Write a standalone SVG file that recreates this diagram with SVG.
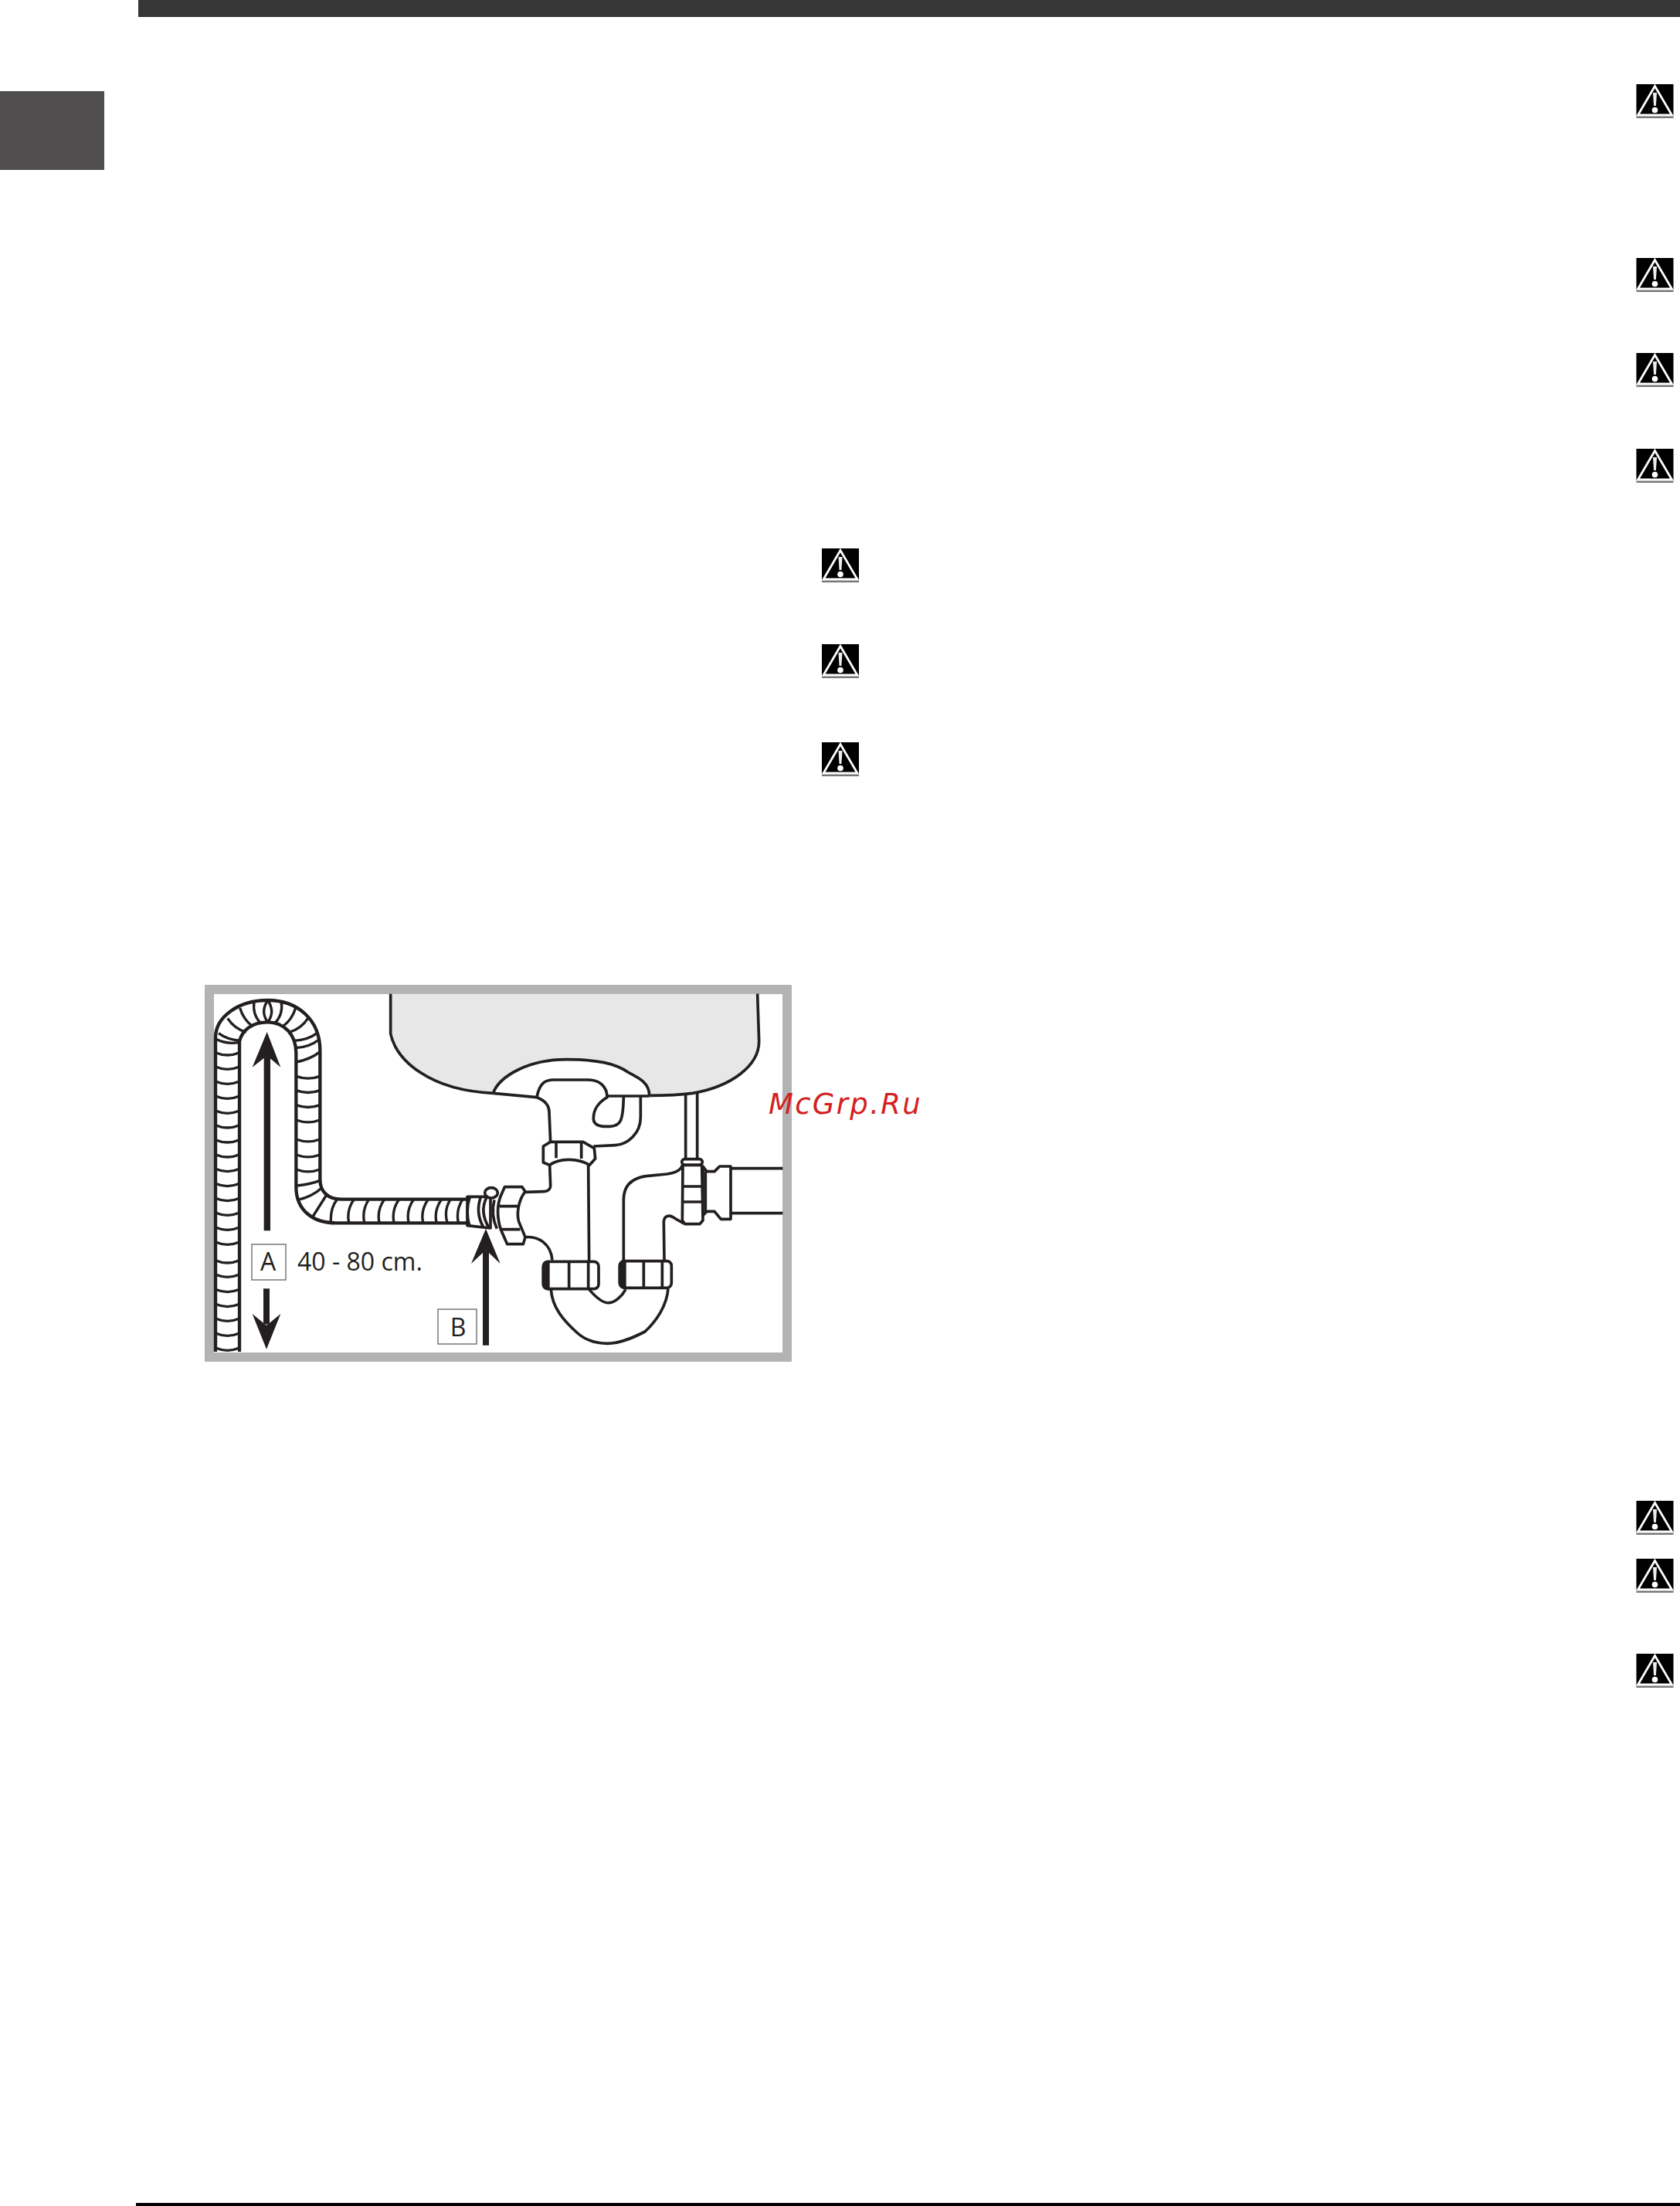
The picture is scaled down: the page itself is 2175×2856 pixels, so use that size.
<svg xmlns="http://www.w3.org/2000/svg" xmlns:xlink="http://www.w3.org/1999/xlink" width="2175" height="2856" viewBox="0 0 2175 2856">
<style>
.l{fill:none;stroke:#231f20;stroke-width:11;stroke-linejoin:round;stroke-linecap:butt}
.h{fill:none;stroke:#231f20;stroke-width:13}
.r{fill:none;stroke:#231f20;stroke-width:10}
.w{fill:#fff;stroke:#231f20;stroke-width:11;stroke-linejoin:round}
.a{fill:#231f20}
.tag{fill:#fff;stroke:#808080;stroke-width:1.6}
.t{font-family:"Open Sans",sans-serif;font-size:32px;fill:#231f20}
</style>
<defs>
<g id="warn">
<rect x="0" y="0" width="48" height="41" fill="#000"/>
<rect x="0" y="41" width="48" height="3" fill="#777"/>
<path d="M24 2.500L2 40H46Z" fill="#000" stroke="#fff" stroke-width="2.800"/>
<path d="M21.500 11H26.500L25.400 28H22.600Z" fill="#eee"/>
<circle cx="24" cy="33.500" r="3.800" fill="#fff"/>
</g>
</defs>
<rect width="2175" height="2856" fill="#fff"/>
<rect id="top-bar" x="179" y="0" width="1996" height="22" fill="#363636"/>
<rect id="side-tab" x="0" y="118" width="135" height="102" fill="#4f4d4d"/>
<rect id="bottom-rule" x="176" y="2852" width="1999" height="4" fill="#000"/>
<g id="warnings">
<use href="#warn" x="2118.500" y="109"/>
<use href="#warn" x="2118.500" y="334"/>
<use href="#warn" x="2118.500" y="457"/>
<use href="#warn" x="2118.500" y="581"/>
<use href="#warn" x="1064" y="710"/>
<use href="#warn" x="1064" y="834"/>
<use href="#warn" x="1064" y="961"/>
<use href="#warn" x="2118.500" y="1943"/>
<use href="#warn" x="2118.500" y="2018"/>
<use href="#warn" x="2118.500" y="2141"/>
</g>
<g id="figure">
<rect id="frame" x="271" y="1281" width="748" height="476" fill="#fff" stroke="#b3b3b3" stroke-width="12"/>
<g id="plumbing" transform="translate(600,1260) scale(.33333)">
<path d="M-283 80V235C-260 340 -130 455 115 466C140 400 250 335 400 335C520 335 590 350 640 385C690 410 722 430 722 475C800 475 860 470 890 466C1040 440 1148 360 1148 265L1142 80Z" fill="#e7e7e7"/>
<path class="l" d="M-283 80V235C-260 340 -130 455 115 466"/>
<path class="l" d="M115 466C140 400 250 335 400 335C520 335 590 350 640 385C690 410 722 430 722 475"/>
<path class="l" d="M722 475C800 475 860 470 890 466C1040 440 1148 360 1148 265L1142 80"/>
<path d="M285 482C295 425 320 414 350 414H480C530 414 558 440 558 478H722L115 466Z" fill="#fff"/>
<path d="M115 466L285 482L558 478H722V520H115Z" fill="#fff"/>
<path class="l" d="M115 466L285 482"/>
<path class="l" d="M558 477H722"/>
<path class="l" d="M285 482C295 425 320 414 350 414H480C530 414 558 440 558 482C520 505 505 530 505 565C505 590 530 597 570 595C610 592 620 575 622 480"/>
<path class="l" d="M285 482C320 495 333 515 333 540L338 655"/>
<path class="l" d="M688 478V560C688 620 640 665 590 668L505 672"/>
<path class="l" d="M863 465V722M908 465V722"/>
<path class="w" d="M338 655L310 672V735L335 745C370 720 440 715 490 745L512 720L508 680L465 655Z"/>
<path class="l" d="M360 660V718M458 657V720"/>
<path class="l" d="M335 745L338 825C338 840 325 848 310 848L240 850"/>
<path class="l" d="M485 745L488 1120"/>
<path class="w" d="M160 830H228L240 848C215 880 205 930 215 965L240 1025L232 1052H170L145 995C130 950 130 900 145 865Z"/>
<path class="l" d="M140 905H210M145 995H220"/>
<path class="l" d="M240 1025C290 1020 340 1050 345 1115"/>
<path class="l" d="M622 1118V880C622 820 660 795 710 788L790 780C825 775 845 765 850 745"/>
<path class="l" d="M780 1115L778 965C780 940 800 938 815 948C830 958 845 965 855 972"/>
<path class="l" d="M340 1228C345 1300 390 1350 440 1395C480 1432 530 1438 560 1438C610 1438 660 1415 705 1392C750 1350 790 1290 795 1225"/>
<path class="l" d="M488 1228C520 1265 545 1282 565 1280C590 1278 615 1255 630 1228"/>
<rect class="w" x="310" y="1120" width="215" height="106" rx="18"/>
<path class="a" d="M328 1120C316 1120 305 1130 305 1145V1205C305 1220 318 1232 335 1232V1120Z"/>
<path class="l" d="M410 1120V1226M485 1120V1226"/>
<rect class="w" x="607" y="1118" width="201" height="104" rx="18"/>
<path class="a" d="M625 1115C613 1115 602 1125 602 1140V1200C602 1215 615 1226 632 1226V1115Z"/>
<path class="l" d="M700 1118V1222M772 1118V1222"/>
<path class="w" d="M852 745H926L930 960L918 974H860L850 960Z"/>
<path class="l" d="M852 828H926M852 888H926"/>
<rect class="w" x="848" y="722" width="80" height="22" rx="11"/>
<path class="w" d="M930 750L945 770H975L995 750H1038V955H1000L975 925H945L930 940Z"/>
<path class="l" d="M940 770V925"/>
<path class="l" d="M1038 758H1240M1038 932H1240"/>
</g>
<g id="hose" transform="translate(255,1260) scale(.33333)">
<path class="h" d="M72 1470V250C72 170 160 105 275 105C390 105 478 180 478 300V800C478 850 510 878 560 878H1050"/>
<path class="h" d="M165 1470V265C175 220 215 190 275 190C340 190 385 240 385 310V830C385 920 450 970 540 970H1050"/>
<g id="hose-ribs">
<path class="r" d="M72 255Q118 278 165 268M72 308Q118 328 165 308M72 363Q118 383 165 363M72 420Q118 440 165 420M72 477Q118 497 165 477M72 534Q118 554 165 534M72 590Q118 610 165 590M72 647Q118 667 165 647M72 704Q118 724 165 704M72 760Q118 780 165 760M72 817Q118 837 165 817M72 874Q118 894 165 874M72 930Q118 950 165 930M72 987Q118 1007 165 987M72 1044Q118 1064 165 1044M72 1115Q118 1135 165 1115M72 1170Q118 1190 165 1170M72 1228Q118 1248 165 1228M72 1285Q118 1305 165 1285M72 1341Q118 1361 165 1341M72 1398Q118 1418 165 1398M72 1455Q118 1475 165 1455"/>
<path class="r" d="M385 290Q440 285 470 260M385 345Q440 335 478 305M385 400Q432 417 478 400M385 455Q432 472 478 455M385 512Q432 529 478 512M385 570Q432 587 478 570M385 645Q432 662 478 645M385 705Q432 722 478 705M385 762Q432 779 478 762M387 825Q440 820 478 805"/>
<path class="r" d="M392 880Q445 870 487 832M450 945L507 855M520 965Q518 910 545 878M590 968Q580 920 610 878M650 968Q640 920 668 878M708 968Q698 920 728 878M765 968Q755 920 785 878M822 968Q812 920 842 878M878 968Q868 920 898 878M930 968Q920 920 950 878M972 968Q958 920 985 878M1015 968Q1005 920 1032 878"/>
<path class="r" d="M171 262Q120 260 84 233M191 229Q145 215 119 175M217 207Q180 180 167 135M247 194Q215 160 222 112M275 190Q245 150 275 105M275 190Q305 150 275 105M303 194Q335 160 328 112M333 207Q370 180 383 135M359 229Q405 215 431 175M378 262Q430 260 466 233"/>
</g>
<g id="clamp">
<path class="w" d="M1050 868H1140V990L1050 980Z"/>
<path class="l" d="M1060 870C1048 900 1048 950 1058 978M1102 870C1088 910 1092 950 1112 985M1125 870C1105 910 1110 950 1135 990M1155 880C1145 920 1150 960 1165 992"/>
<ellipse class="w" cx="1143" cy="853" rx="25" ry="20"/>
</g>
</g>
<g id="arrows" transform="translate(255,1260) scale(.33333)">
<path class="a" d="M260 1000V325L272 320L285 325V1000Z"/>
<path class="a" d="M272 228L325 365L272 320L215 365Z"/>
<path class="a" d="M258 1225H282V1360L270 1365L258 1360Z"/>
<path class="a" d="M270 1460L325 1323L270 1368L215 1323Z"/>
<path class="a" d="M1110 1445V1080L1122 1075L1134 1080V1445Z"/>
<path class="a" d="M1122 992L1178 1128L1122 1075L1065 1128Z"/>
</g>
<g id="label-a">
<rect class="tag" x="326" y="1611" width="44" height="46"/>
<text class="t" x="347" y="1645" text-anchor="middle">A</text>
<text class="t" x="385" y="1645">40 - 80 cm.</text>
</g>
<g id="label-b">
<rect class="tag" x="567" y="1695" width="50" height="45"/>
<text class="t" x="593" y="1730" text-anchor="middle">B</text>
</g>
</g>
<text id="watermark" x="995" y="1442" font-family="DejaVu Sans, sans-serif" font-style="italic" font-size="37" letter-spacing="2.300" fill="#d42020">McGrp.Ru</text>
</svg>
